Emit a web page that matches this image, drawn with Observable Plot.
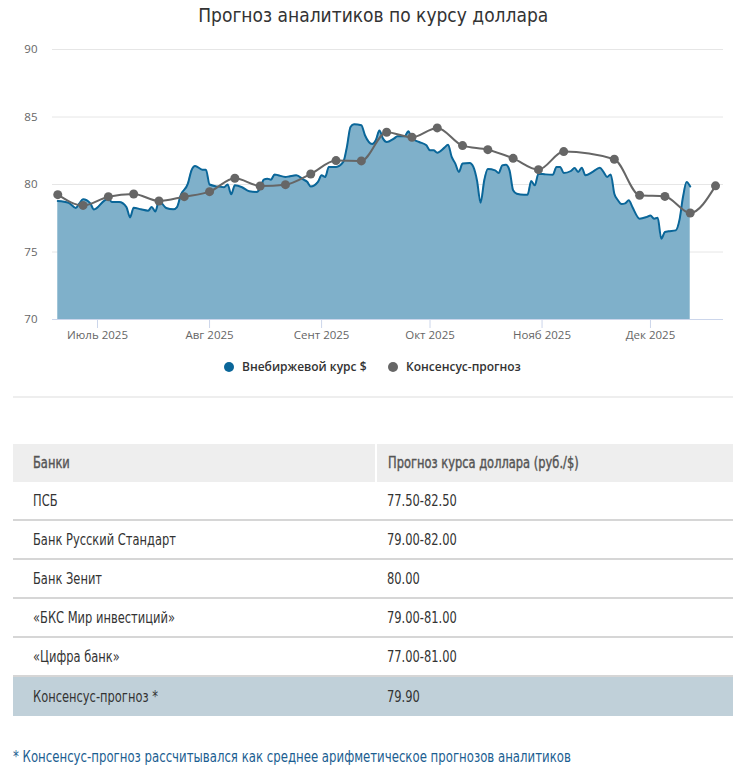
<!DOCTYPE html>
<html><head><meta charset="utf-8">
<script src="https://cdn.jsdelivr.net/npm/d3@7"></script>
<script src="https://cdn.jsdelivr.net/npm/@observablehq/plot@0.6"></script>
<style>
html,body{margin:0;padding:0;background:#fff;}
body{position:relative;width:747px;height:774px;overflow:hidden;}
.narrow{font-family:"Liberation Sans Narrow","DejaVu Sans Condensed",sans-serif;}
.sx{display:inline-block;transform:scaleX(0.85);transform-origin:0 50%;white-space:nowrap;}
#title{position:absolute;left:0;top:3px;width:747px;text-align:center;font-size:20px;color:#333;}
#title span{display:inline-block;transform:scaleX(0.95);transform-origin:50% 50%;}
#chart{position:absolute;left:0;top:36px;}
#legend{position:absolute;left:0;top:357px;width:747px;height:20px;font-family:"Open Sans",sans-serif;font-weight:600;font-size:12px;color:#333;}
.li{position:absolute;top:0;line-height:20px;white-space:nowrap;}
.dot{position:absolute;top:5px;width:10px;height:10px;border-radius:50%;}
#sep{position:absolute;left:13px;top:396px;width:720px;height:2px;background:#eeeeee;}
#tbl{position:absolute;left:13px;top:444px;width:720px;border-collapse:collapse;font-size:15px;color:#333;}
#tbl th{background:#eeeeee;color:#555;font-weight:normal;text-align:left;height:38px;padding:0 0 0 20px;-webkit-text-stroke:0.4px #555;}
#tbl th:first-child{border-right:2px solid #fff;width:342px;}
#tbl td{height:37px;padding:0 0 0 20px;border-bottom:2px solid #d6d6d6;}
#tbl td:last-child{padding-left:11px;}
#tbl th:last-child{padding-left:11px;}
#tbl tr.cons td{background:#c0d0d9;border-bottom:none;height:39px;}
#note{position:absolute;left:13px;top:748px;font-size:15px;color:#1b5e91;white-space:nowrap;}
</style>
</head><body>
<div id="title" class="narrow"><span>Прогноз аналитиков по курсу доллара</span></div>
<div id="chart"></div>
<div id="legend"></div>
<div id="sep"></div>
<table id="tbl" class="narrow"></table>
<div id="note" class="narrow"><span class="sx" style="transform:scaleX(0.87)">* Консенсус-прогноз рассчитывался как среднее арифметическое прогнозов аналитиков</span></div>
<script>
// ---- data ----
const rateDates = ["2025-06-20","2025-06-23","2025-06-25","2025-06-26","2025-06-27","2025-06-29","2025-06-30",
"2025-07-03","2025-07-04","2025-07-05","2025-07-07","2025-07-09","2025-07-10","2025-07-11","2025-07-13","2025-07-15",
"2025-07-16","2025-07-17","2025-07-18","2025-07-20","2025-07-22","2025-07-23","2025-07-24","2025-07-26","2025-07-27",
"2025-07-28","2025-07-30","2025-07-31","2025-08-01","2025-08-03","2025-08-05","2025-08-06","2025-08-07","2025-08-08",
"2025-08-10","2025-08-12","2025-08-14","2025-08-15","2025-08-16","2025-08-17","2025-08-18","2025-08-19","2025-08-20",
"2025-08-22","2025-08-23","2025-08-25","2025-08-27","2025-08-28","2025-08-29","2025-08-31","2025-09-01","2025-09-02",
"2025-09-03","2025-09-05","2025-09-07","2025-09-08","2025-09-09","2025-09-10","2025-09-12","2025-09-13","2025-09-15",
"2025-09-16","2025-09-17","2025-09-18","2025-09-19","2025-09-21","2025-09-22","2025-09-24","2025-09-25","2025-09-26",
"2025-09-28","2025-09-30","2025-10-01","2025-10-02","2025-10-03","2025-10-05","2025-10-06","2025-10-07","2025-10-08",
"2025-10-09","2025-10-10","2025-10-12","2025-10-13","2025-10-14","2025-10-15","2025-10-16","2025-10-17","2025-10-19",
"2025-10-20","2025-10-21","2025-10-22","2025-10-23","2025-10-24","2025-10-25","2025-10-27","2025-10-28","2025-10-29",
"2025-10-30","2025-10-31","2025-11-02","2025-11-04","2025-11-05","2025-11-06","2025-11-07","2025-11-09","2025-11-10",
"2025-11-11","2025-11-12","2025-11-13","2025-11-15","2025-11-17","2025-11-18","2025-11-19","2025-11-20","2025-11-21",
"2025-11-22","2025-11-23","2025-11-24","2025-11-25","2025-11-26","2025-11-28","2025-11-30","2025-12-01","2025-12-02",
"2025-12-03","2025-12-04","2025-12-05","2025-12-06","2025-12-08","2025-12-09","2025-12-10","2025-12-11","2025-12-12"];
const rateValues = [78.78,78.65,78.26,78.6,78.9,78.6,78.15,
78.83,78.95,78.7,78.7,78.33,77.56,78.28,78.16,78.06,
78.33,78.0,78.78,78.26,78.16,78.33,79.2,80.06,81.05,
81.37,81.1,81.1,80.0,79.86,79.8,80.0,79.27,79.94,
79.8,79.5,79.45,79.7,80.36,80.43,80.36,80.75,80.68,
80.56,80.6,80.68,80.36,80.2,79.86,80.2,80.68,80.56,
81.3,81.3,81.67,82.78,84.26,84.46,84.39,83.65,83.0,
83.28,84.0,83.4,83.15,83.4,83.57,83.57,83.94,83.4,
83.15,82.9,82.53,82.53,82.36,82.73,82.95,82.04,81.55,
80.93,81.55,81.6,81.3,80.3,78.65,80.3,81.15,81.05,
80.85,81.42,81.47,81.05,79.57,79.32,79.25,79.25,80.26,
79.94,80.8,80.75,80.73,81.3,81.3,80.85,81.0,81.22,
80.93,81.25,80.68,80.93,81.25,80.93,80.56,80.75,79.32,
78.83,78.55,78.6,78.83,78.33,77.47,77.6,77.7,77.47,
77.53,75.98,76.48,76.53,76.6,77.34,79.07,80.19,79.85];

const consDates = ["2025-06-20","2025-06-27","2025-07-04","2025-07-11","2025-07-18","2025-07-25","2025-08-01",
"2025-08-08","2025-08-15","2025-08-22","2025-08-29","2025-09-05","2025-09-12","2025-09-19","2025-09-26",
"2025-10-03","2025-10-10","2025-10-17","2025-10-24","2025-10-31","2025-11-07","2025-11-21","2025-11-28",
"2025-12-05","2025-12-12","2025-12-19"];
const consValues = [79.25,78.45,79.1,79.3,78.78,79.1,79.47,
80.46,79.89,79.99,80.78,81.77,81.75,83.87,83.5,
84.19,82.88,82.58,81.94,81.1,82.44,81.87,79.2,
79.12,77.89,79.9];

const yTicks = [70,75,80,85,90];
const monthTickDates = ["2025-07-01","2025-08-01","2025-09-01","2025-10-01","2025-11-01","2025-12-01"];
const monthTickLabels = ["Июль 2025","Авг 2025","Сент 2025","Окт 2025","Нояб 2025","Дек 2025"];

const seriesNames = ["Внебиржевой курс $","Консенсус-прогноз"];
const seriesColors = ["#0a6699","#666666"];

const banks = ["ПСБ","Банк Русский Стандарт","Банк Зенит","«БКС Мир инвестиций»","«Цифра банк»","Консенсус-прогноз *"];
const forecasts = ["77.50-82.50","79.00-82.00","80.00","79.00-81.00","77.00-81.00","79.90"];
const tableHeader = ["Банки","Прогноз курса доллара (руб./$)"];

// ---- build ----
const rate = rateDates.map((d,i)=>({date:new Date(d), value:rateValues[i]}));
const cons = consDates.map((d,i)=>({date:new Date(d), value:consValues[i]}));
const tickDates = monthTickDates.map(d=>new Date(d));
const labelOf = new Map(monthTickDates.map((d,i)=>[+new Date(d), monthTickLabels[i]]));

const chart = Plot.plot({
  width: 747, height: 309,
  marginLeft: 52, marginRight: 24, marginTop: 13, marginBottom: 26,
  style: {fontFamily: "'Open Sans', sans-serif", fontSize: "11.5px", color: "#666", background: "transparent", overflow: "visible"},
  x: {type: "utc", domain: [new Date("2025-06-18T13:00Z"), new Date("2025-12-21T05:00Z")]},
  y: {domain: [70, 90]},
  marks: [
    Plot.gridY({ticks: yTicks.slice(1), stroke: "#e6e6e6", strokeOpacity: 1}),
    Plot.areaY(rate, {x: "date", y1: 70, y2: "value", fill: "#7fb0ca", fillOpacity: 1, curve: "monotone-x"}),
    Plot.lineY(rate, {x: "date", y: "value", stroke: seriesColors[0], strokeWidth: 2, curve: "monotone-x"}),
    Plot.lineY(cons, {x: "date", y: "value", stroke: seriesColors[1], strokeWidth: 2, curve: "monotone-x"}),
    Plot.dot(cons, {x: "date", y: "value", fill: seriesColors[1], r: 4.5}),
    Plot.ruleY([70], {stroke: "#ccd6eb"}),
    Plot.axisY({ticks: yTicks, tickSize: 0, tickPadding: 15, fill: "#666", label: null}),
    Plot.axisX({ticks: tickDates, tickFormat: d => labelOf.get(+d), tickSize: 9, tickPadding: 2, stroke: "#ccd6eb", fill: "#666", label: null})
  ]
});
document.getElementById("chart").appendChild(chart);

// legend
const legend = document.getElementById("legend");
const legendX = [224, 388];
seriesNames.forEach((n,i)=>{
  const dot = document.createElement("div");
  dot.className = "dot"; dot.style.left = legendX[i] + "px"; dot.style.background = seriesColors[i];
  legend.appendChild(dot);
  const t = document.createElement("div");
  t.className = "li"; t.style.left = (legendX[i] + 18) + "px"; t.textContent = n;
  legend.appendChild(t);
});

// table
const tbl = document.getElementById("tbl");
const hr = document.createElement("tr");
tableHeader.forEach(h=>{const th=document.createElement("th"); const s=document.createElement("span"); s.className="sx"; s.textContent=h; th.appendChild(s); hr.appendChild(th);});
tbl.appendChild(hr);
banks.forEach((b,i)=>{
  const tr=document.createElement("tr");
  if(i===banks.length-1) tr.className="cons";
  [b, forecasts[i]].forEach(v=>{const td=document.createElement("td"); const s=document.createElement("span"); s.className="sx"; s.textContent=v; td.appendChild(s); tr.appendChild(td);});
  tbl.appendChild(tr);
});
</script>
</body></html>
